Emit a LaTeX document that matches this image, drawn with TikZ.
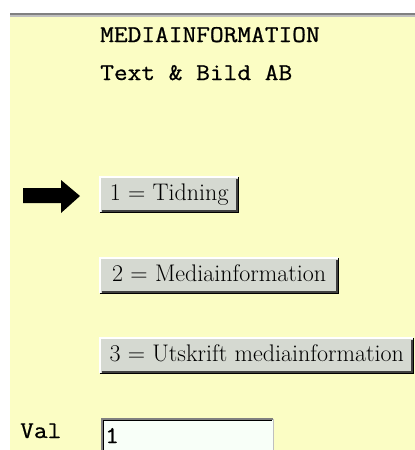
\documentclass[tikz,border=0pt]{standalone}
\usepackage{fontspec}
\newfontfamily\courier[FakeStretch=1.11,FakeBold=0.8]{Latin Modern Mono}
\definecolor{papper}{RGB}{251,253,196}
\definecolor{knappgra}{RGB}{213,217,209}
\definecolor{falt}{RGB}{248,255,248}
\begin{document}
\begin{tikzpicture}
  [x=1pt,y=-1pt,
   Mono/.style={anchor=base west,inner sep=0pt,font=\courier\fontsize{24}{26}\selectfont},
   Button/.style={anchor=north west,fill=knappgra,minimum height=35pt,inner sep=0pt,
                  text height=16pt,text depth=5pt,font=\fontsize{24}{26}\selectfont},
   Field/.style={anchor=north west,fill=falt,minimum width=171pt,minimum height=35pt,inner sep=0pt}]
  \useasboundingbox (0,0) rectangle (415,450);
  % page and the rule on top
  \fill[papper] (10,17) rectangle (415,450);
  \fill[gray] (10,13) rectangle (415,15);
  \fill[lightgray] (10,15) rectangle (415,17);
  \node[Mono] (rubrik) at (100,42) {MEDIAINFORMATION};
  \node[Mono] (firma) at (100,80) {Text \& Bild AB};
  % menu buttons
  \node[Button,minimum width=138pt] (knapp1) at (100,177) {1 = Tidning};
  \node[Button,minimum width=238pt] (knapp2) at (100,258) {2 = Mediainformation};
  \node[Button,minimum width=313pt] (knapp3) at (100,338) {3 = Utskrift mediainformation};
  \foreach \b in {knapp1,knapp2,knapp3} {
    \draw[white,line width=1.5pt] (\b.south west) -- (\b.north west) -- (\b.north east);
    \draw[darkgray,line width=1.5pt] ([xshift=1.5pt,yshift=1.5pt]\b.south west)
      -- ([xshift=-1.5pt,yshift=1.5pt]\b.south east) -- ([xshift=-1.5pt,yshift=-1.5pt]\b.north east);
    \draw[black,line width=1.5pt] (\b.south west) -- (\b.south east) -- (\b.north east);
  }
  % pointer at the chosen item
  \fill (23,188) -- (61,188) -- (61,180) -- (80,196) -- (61,213) -- (61,203) -- (23,203) -- cycle;
  % input line
  \node[Mono] (val) at (20,438) {Val};
  \node[Field] (svar) at (102,419) {};
  \draw[lightgray,line width=1.5pt] (svar.south east) -- (svar.north east);
  \draw[gray,line width=1.5pt] (svar.south west) -- (svar.north west) -- (svar.north east);
  \draw[black,line width=1.5pt] ([xshift=1.5pt]svar.south west) -- ([xshift=1.5pt,yshift=-1.5pt]svar.north west)
    -- ([xshift=-1.5pt,yshift=-1.5pt]svar.north east);
  \node[Mono] (svartext) at (105,443) {1};
\end{tikzpicture}
\end{document}
